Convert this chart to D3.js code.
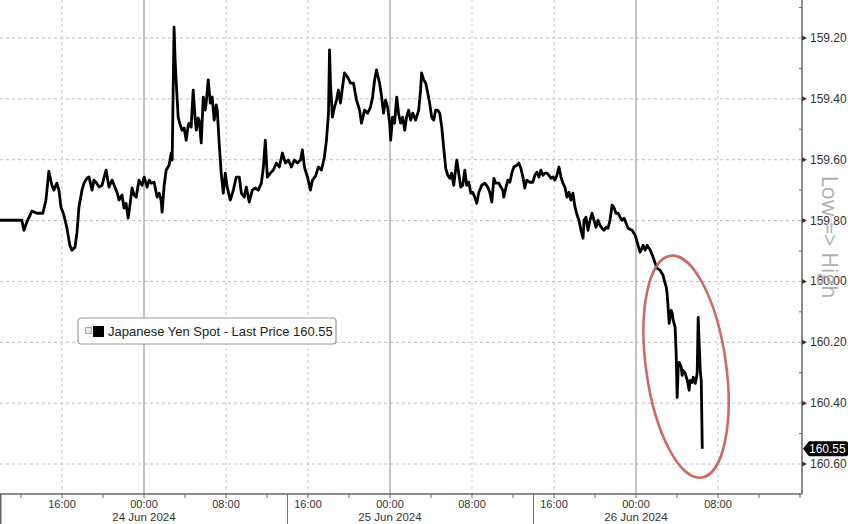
<!DOCTYPE html>
<html><head><meta charset="utf-8">
<script src="https://cdn.jsdelivr.net/npm/d3@7"></script>
<style>html,body{margin:0;padding:0;background:#fff;overflow:hidden;} svg{display:block;}</style>
</head><body><svg id="c" width="848" height="524"></svg>
<script>
// ---- data ----
const seriesStart = new Date(2024, 5, 23, 9, 50);
const minutesFromStart = [
0,135,147,164,194,223,258,276,293,311,
323,340,352,364,381,399,416,428,446,458,
469,487,499,516,528,546,557,569,587,604,
628,645,663,675,692,704,721,733,745,757,
768,780,792,804,821,839,851,868,880,892,
909,927,939,950,956,968,980,997,1009,1015,
1026,1032,1038,1050,1062,1073,1085,1097,1109,1114,
1126,1138,1150,1156,1167,1173,1185,1197,1208,1214,
1226,1238,1249,1261,1273,1279,1290,1302,1314,1326,
1337,1355,1373,1390,1408,1420,1437,1449,1466,1484,
1502,1519,1537,1549,1560,1572,1590,1607,1625,1642,
1660,1678,1695,1713,1730,1748,1766,1777,1789,1807,
1824,1836,1854,1871,1889,1906,1918,1930,1936,1942,
1953,1965,1977,1988,2000,2012,2024,2041,2059,2076,
2094,2112,2123,2141,2159,2176,2188,2200,2211,2229,
2241,2252,2264,2276,2288,2294,2305,2317,2329,2340,
2352,2364,2376,2387,2399,2411,2423,2440,2458,2469,
2475,2487,2499,2511,2522,2534,2546,2557,2569,2581,
2593,2604,2616,2628,2640,2651,2663,2681,2692,2704,
2716,2728,2739,2751,2763,2774,2786,2798,2810,2827,
2845,2862,2874,2886,2898,2909,2927,2939,2950,2956,
2968,2980,2992,3003,3015,3033,3044,3056,3068,3079,
3091,3109,3126,3138,3150,3162,3173,3185,3197,3209,
3220,3232,3244,3255,3267,3279,3291,3302,3314,3326,
3338,3349,3361,3373,3385,3396,3408,3420,3426,3437,
3449,3461,3473,3484,3496,3508,3519,3531,3543,3555,
3566,3578,3590,3602,3613,3625,3637,3648,3660,3672,
3684,3707,3725,3742,3754,3772,3783,3795,3813,3830,
3842,3854,3871,3889,3895,3907,3912,3918,3924,3936,
3942,3948,3959,3965,3971,3977,3983,3995,4000,4006,
4018,4030,4041,4047,4059,4065,4077,4083,4088,4094,
4106,4112,4118
];
const price = [
159.799,159.799,159.832,159.805,159.769,159.776,159.776,159.733,159.638,159.684,
159.700,159.677,159.700,159.756,159.782,159.825,159.881,159.897,159.888,159.838,
159.756,159.700,159.677,159.661,159.657,159.700,159.667,159.674,159.690,159.684,
159.634,159.690,159.667,159.684,159.707,159.733,159.716,159.759,159.743,159.792,
159.749,159.693,159.716,159.723,159.667,159.684,159.657,159.690,159.667,159.677,
159.674,159.723,159.710,159.733,159.772,159.684,159.634,159.618,159.578,159.601,
159.164,159.272,159.338,159.460,159.486,159.503,159.496,159.536,159.486,159.480,
159.493,159.371,159.470,159.503,159.463,159.470,159.545,159.394,159.437,159.414,
159.338,159.414,159.394,159.470,159.420,159.437,159.545,159.644,159.710,159.644,
159.690,159.733,159.700,159.657,159.657,159.710,159.723,159.690,159.739,159.700,
159.693,159.700,159.677,159.624,159.536,159.657,159.644,159.634,159.611,159.624,
159.578,159.611,159.601,159.624,159.601,159.611,159.601,159.568,159.624,159.657,
159.700,159.667,159.654,159.624,159.634,159.591,159.536,159.447,159.239,159.355,
159.460,159.427,159.404,159.371,159.414,159.361,159.315,159.328,159.348,159.348,
159.404,159.437,159.480,159.437,159.447,159.427,159.394,159.338,159.305,159.348,
159.394,159.447,159.404,159.427,159.480,159.536,159.460,159.480,159.394,159.447,
159.480,159.460,159.503,159.460,159.437,159.470,159.447,159.470,159.437,159.371,
159.315,159.338,159.348,159.381,159.414,159.460,159.470,159.437,159.437,159.447,
159.493,159.559,159.628,159.651,159.661,159.644,159.684,159.601,159.644,159.690,
159.684,159.634,159.684,159.674,159.710,159.707,159.723,159.743,159.707,159.684,
159.677,159.690,159.707,159.739,159.661,159.677,159.677,159.690,159.700,159.723,
159.693,159.667,159.674,159.644,159.624,159.618,159.611,159.628,159.657,159.693,
159.667,159.674,159.674,159.651,159.641,159.657,159.634,159.651,159.644,159.644,
159.651,159.661,159.657,159.667,159.651,159.624,159.657,159.677,159.690,159.723,
159.707,159.733,159.710,159.756,159.782,159.799,159.832,159.858,159.799,159.789,
159.832,159.799,159.776,159.799,159.822,159.799,159.815,159.825,159.832,159.822,
159.825,159.799,159.749,159.759,159.776,159.776,159.789,159.799,159.792,159.809,
159.825,159.832,159.848,159.881,159.904,159.881,159.897,159.881,159.897,159.920,
159.940,159.957,159.963,159.980,159.996,160.019,160.039,160.085,160.138,160.095,
160.105,160.128,160.151,160.236,160.381,160.282,160.266,160.282,160.309,160.292,
160.302,160.325,160.358,160.325,160.332,160.315,160.335,160.318,160.302,160.118,
160.292,160.325,160.550
];
const yTickValues = [159.2, 159.4, 159.6, 159.8, 160.0, 160.2, 160.4, 160.6];
const yMinorValues = [159.1, 159.3, 159.5, 159.7, 159.9, 160.1, 160.3, 160.5];
const dateLabels = ["24 Jun 2024", "25 Jun 2024", "26 Jun 2024"];
const dateLabelTimes = [new Date(2024,5,24,0,0), new Date(2024,5,25,0,0), new Date(2024,5,26,0,0)];
const daySeparatorTimes = [new Date(2024,5,24,14,0), new Date(2024,5,25,14,0)];
const lastLabelledTime = new Date(2024,5,26,8,0);
const lastPrice = 160.55;
const legendText = "Japanese Yen Spot - Last Price 160.55";
const axisTitle = "Low => High";

// ---- layout ----
const W = 848, H = 524;
const plotRight = 802, plotBottom = 494;
const svg = d3.select("#c");
const font = "'Liberation Sans', Arial, sans-serif";

const x = d3.scaleTime()
  .domain([new Date(2024,5,24,0,0), new Date(2024,5,26,0,0)])
  .range([144, 636]);
const y = d3.scaleLinear().domain([159.2, 160.6]).range([38, 464]);

const data = minutesFromStart.map((m, i) => ({
  t: new Date(seriesStart.getTime() + m * 60000), v: price[i]
}));

const tStart = x.invert(0), tEnd = x.invert(plotRight);
const allMajor = d3.timeHour.every(8).range(tStart, tEnd);
const majorTimes = allMajor.filter(d => d <= lastLabelledTime);
const minorTimes = d3.timeHour.every(4).range(tStart, tEnd)
  .filter(d => d.getHours() % 8 !== 0 || d > lastLabelledTime);

// horizontal dotted gridlines
svg.append("g").selectAll("line").data(yTickValues).join("line")
  .attr("x1", 0).attr("x2", plotRight)
  .attr("y1", d => y(d)).attr("y2", d => y(d))
  .attr("stroke", "#bdbdbd").attr("stroke-width", 1)
  .attr("stroke-dasharray", "3,3");

// vertical gridlines
svg.append("g").selectAll("line").data(majorTimes).join("line")
  .attr("x1", d => x(d)).attr("x2", d => x(d))
  .attr("y1", 0).attr("y2", plotBottom)
  .attr("stroke", d => d.getHours() === 0 ? "#b4b4b4" : "#c8c8c8")
  .attr("stroke-width", d => d.getHours() === 0 ? 1.6 : 1)
  .attr("stroke-dasharray", d => d.getHours() === 0 ? null : "3,3");

// price line
svg.append("path").datum(data)
  .attr("fill", "none").attr("stroke", "#000")
  .attr("stroke-width", 2.8).attr("stroke-linejoin", "round")
  .attr("d", d3.line().x(d => x(d.t)).y(d => y(d.v)));

// highlight ellipse
const lastT = data[data.length - 1].t;
const ecx = x(new Date(lastT.getTime() - 95 * 60000));
const ecy = y(160.28);
svg.append("ellipse")
  .attr("cx", 0).attr("cy", 0).attr("rx", 40).attr("ry", 112)
  .attr("transform", `translate(${ecx},${ecy}) rotate(-8)`)
  .attr("fill", "none").attr("stroke", "#c65a58").attr("stroke-width", 2.6)
  .attr("opacity", 0.9);

// axes lines
svg.append("line").attr("x1", plotRight).attr("x2", plotRight).attr("y1", 0).attr("y2", plotBottom)
  .attr("stroke", "#666").attr("stroke-width", 1.5);
svg.append("line").attr("x1", 0).attr("x2", plotRight).attr("y1", plotBottom).attr("y2", plotBottom)
  .attr("stroke", "#666").attr("stroke-width", 1.5);
svg.append("line").attr("x1", 0.75).attr("x2", 0.75).attr("y1", plotBottom).attr("y2", H)
  .attr("stroke", "#666").attr("stroke-width", 1.5);

// day separators in the label area
svg.append("g").selectAll("line").data(daySeparatorTimes).join("line")
  .attr("x1", d => x(d)).attr("x2", d => x(d))
  .attr("y1", plotBottom).attr("y2", H)
  .attr("stroke", "#777").attr("stroke-width", 1);

// x ticks
svg.append("g").selectAll("line").data(majorTimes.concat(minorTimes)).join("line")
  .attr("x1", d => x(d)).attr("x2", d => x(d))
  .attr("y1", plotBottom).attr("y2", plotBottom + 4)
  .attr("stroke", "#666").attr("stroke-width", 1);

const fmt = d3.timeFormat("%H:%M");
svg.append("g").selectAll("text").data(majorTimes).join("text")
  .attr("x", d => x(d)).attr("y", 508)
  .attr("text-anchor", "middle")
  .attr("font-family", font).attr("font-size", 11).attr("fill", "#333")
  .text(d => fmt(d));

svg.append("g").selectAll("text").data(dateLabels).join("text")
  .attr("x", (d, i) => x(dateLabelTimes[i])).attr("y", 521)
  .attr("text-anchor", "middle")
  .attr("font-family", font).attr("font-size", 11.5).attr("fill", "#333")
  .text(d => d);

// y ticks
svg.append("g").selectAll("path").data(yTickValues).join("path")
  .attr("d", d => `M${plotRight},${y(d) - 2.5}L${plotRight + 5},${y(d)}L${plotRight},${y(d) + 2.5}Z`)
  .attr("fill", "#333");
svg.append("g").selectAll("line").data(yMinorValues).join("line")
  .attr("x1", plotRight - 3).attr("x2", plotRight)
  .attr("y1", d => y(d)).attr("y2", d => y(d))
  .attr("stroke", "#666").attr("stroke-width", 1);
svg.append("g").selectAll("text").data(yTickValues).join("text")
  .attr("x", plotRight + 8).attr("y", d => y(d))
  .attr("dominant-baseline", "central")
  .attr("font-family", font).attr("font-size", 12).attr("fill", "#333")
  .text(d => d.toFixed(2));

// axis title
svg.append("text")
  .attr("transform", `translate(822,${y(159.854)}) rotate(90)`)
  .attr("text-anchor", "middle")
  .attr("font-family", "'Open Sans', 'DejaVu Sans', sans-serif")
  .attr("font-size", 21.5).attr("fill", "#b0b0b0")
  .text(axisTitle);

// last price tag
const ly = y(lastPrice);
svg.append("path")
  .attr("d", `M${plotRight + 1},${ly}L${plotRight + 7},${ly - 7.5}L846,${ly - 7.5}Q848,${ly - 7.5} 848,${ly - 5.5}L848,${ly + 5.5}Q848,${ly + 7.5} 846,${ly + 7.5}L${plotRight + 7},${ly + 7.5}Z`)
  .attr("fill", "#000");
svg.append("text")
  .attr("x", plotRight + 7).attr("y", ly)
  .attr("dominant-baseline", "central")
  .attr("font-family", font).attr("font-size", 12).attr("fill", "#fff")
  .text(lastPrice.toFixed(2));

// legend
const lg = svg.append("g").attr("transform", "translate(78,318)");
lg.append("rect").attr("x", 0).attr("y", 0).attr("width", 258).attr("height", 26)
  .attr("rx", 3).attr("fill", "#fff").attr("stroke", "#9a9a9a").attr("stroke-width", 1.2);
lg.append("rect").attr("x", 7.5).attr("y", 9.5).attr("width", 6).attr("height", 6)
  .attr("fill", "#e8e8e8").attr("stroke", "#aaa").attr("stroke-width", 1);
lg.append("rect").attr("x", 15).attr("y", 8).attr("width", 11).attr("height", 11).attr("fill", "#000");
lg.append("text").attr("x", 30).attr("y", 18)
  .attr("font-family", font).attr("font-size", 13).attr("fill", "#222")
  .text(legendText);
</script>
</body></html>
